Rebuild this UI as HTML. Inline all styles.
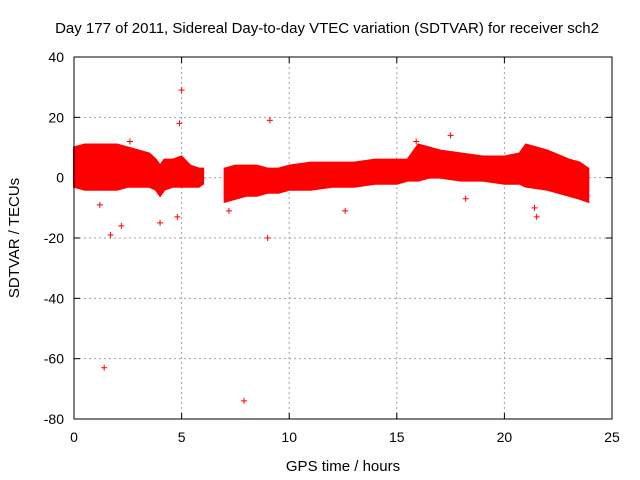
<!DOCTYPE html>
<html><head><meta charset="utf-8"><style>
body{margin:0;background:#fff;}
svg{display:block;font-family:"Liberation Sans",sans-serif;}
</style></head><body>
<svg id="chart" width="640" height="480" viewBox="0 0 640 480">
<rect width="640" height="480" fill="#fff"/>
<text x="327" y="33" text-anchor="middle" font-size="15">Day 177 of 2011, Sidereal Day-to-day VTEC variation (SDTVAR) for receiver sch2</text>
<text x="343" y="471" text-anchor="middle" font-size="15">GPS time / hours</text>
<text transform="translate(19,238) rotate(-90)" text-anchor="middle" font-size="15">SDTVAR / TECUs</text>
<g id="grid"></g><g id="data"></g>
<rect x="74" y="57" width="538" height="362" fill="none" stroke="#000"/>
</svg>
<script>
const xTicks=[0,5,10,15,20,25];
const yTicks=[40,20,0,-20,-40,-60,-80];
const seg1Hours=[0,0.5,1,1.5,2,2.5,3,3.5,3.8,4,4.2,4.6,5,5.4,5.8,6.0];
const seg1Upper=[10,11,11,11,11,10,9,8,6,4,6,6,7,4,3,3];
const seg1Lower=[-3,-4,-4,-4,-4,-3,-3,-3,-4,-6,-4,-3,-3,-3,-3,-2];
const seg2Hours=[7,7.5,8,8.5,9,9.5,10,11,12,13,14,15,15.5,16,16.5,17,18,19,20,20.7,21,22,23,23.5,23.9];
const seg2Upper=[3,4,4,4,3,3,4,5,5,5,6,6,6,11,10,9,8,7,7,8,11,9,6,5,3];
const seg2Lower=[-8,-7,-6,-6,-5,-5,-4,-4,-3,-3,-2,-2,-1,-1,0,0,-1,-1,-2,-2,-3,-4,-6,-7,-8];
const outX=[1.4,7.9,9.1,5,4.9,1.7,4,12.6,18.2,21.5,17.5,15.9,9,7.2,2.6,4.8,1.2,2.2,0.1,21.4];
const outY=[-63,-74,19,29,18,-19,-15,-11,-7,-13,14,12,-20,-11,12,-13,-9,-16,4,-10];
const X=v=>74+v*538/25, Y=v=>57+(40-v)*362/120;
const ns="http://www.w3.org/2000/svg";
const svg=document.getElementById('chart'),grid=document.getElementById('grid'),data=document.getElementById('data');
function mk(tag,attrs,parent){const e=document.createElementNS(ns,tag);for(const k in attrs)e.setAttribute(k,attrs[k]);parent.appendChild(e);return e;}
xTicks.forEach(t=>{
 if(t>0&&t<25){const g=mk('line',{x1:X(t),x2:X(t),y1:57,y2:419,stroke:'#a0a0a0','stroke-dasharray':'2,3'},grid);
 
 }
 mk('line',{x1:X(t),x2:X(t),y1:419,y2:413,stroke:'#000'},grid);
 mk('line',{x1:X(t),x2:X(t),y1:57,y2:63,stroke:'#000'},grid);
 const l=mk('text',{x:X(t),y:442,'text-anchor':'middle','font-size':14},grid);l.textContent=t;
 
 
});
yTicks.forEach(t=>{
 if(t<40&&t>-80){const g=mk('line',{x1:74,x2:612,y1:Y(t),y2:Y(t),stroke:'#a0a0a0','stroke-dasharray':'2,3'},grid);
 
 }
 mk('line',{x1:74,x2:80,y1:Y(t),y2:Y(t),stroke:'#000'},grid);
 mk('line',{x1:612,x2:606,y1:Y(t),y2:Y(t),stroke:'#000'},grid);
 const l=mk('text',{x:64,y:Y(t)+5,'text-anchor':'end','font-size':14},grid);l.textContent=t;
 
 
});
function band(h,u,lo,name){
 let pts=h.map((v,i)=>X(v)+','+Y(u[i]));
 for(let i=h.length-1;i>=0;i--)pts.push(X(h[i])+','+Y(lo[i]));
 const p=mk('polygon',{points:pts.join(' '),fill:'#ff0000',stroke:'#ff0000','stroke-width':2},data);
 
 
}
band(seg1Hours,seg1Upper,seg1Lower,'sdtvar-band-early');
band(seg2Hours,seg2Upper,seg2Lower,'sdtvar-band-late');
outX.forEach((v,i)=>{
 const x=X(v),y=Y(outY[i]);
 const g=mk('path',{d:`M${x-3},${y}h6M${x},${y-3}v6`,stroke:'#ff0000','stroke-width':1},data);
 
 
});
</script>
</body></html>
